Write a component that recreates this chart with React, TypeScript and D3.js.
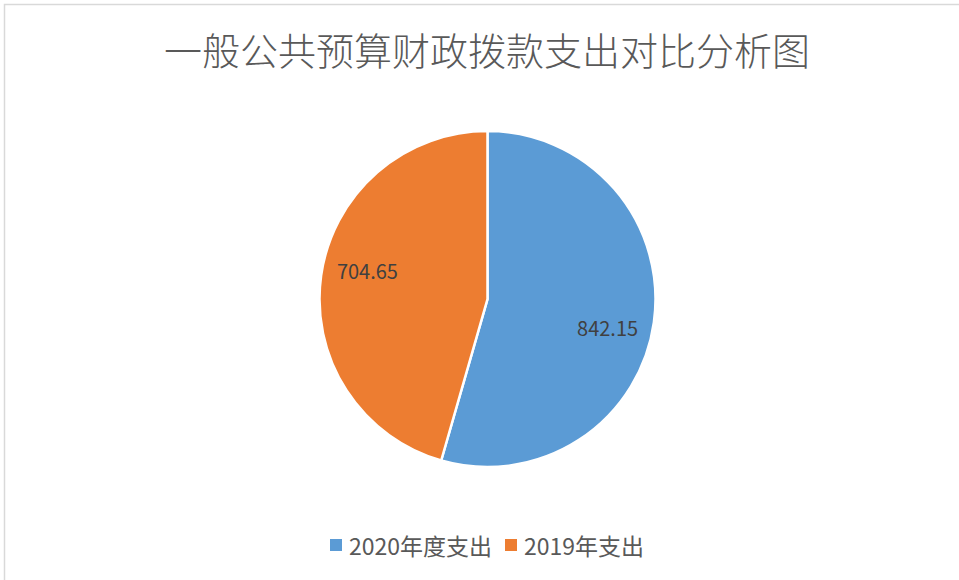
import React from "react";
import * as d3 from "d3";

const categories = ["2020年度支出", "2019年支出"];
const values = [842.15, 704.65];
const labels = ["842.15", "704.65"];
const colors = ["#5B9BD5", "#ED7D31"];
const title = "一般公共预算财政拨款支出对比分析图";

export default function App() {
  const W = 959, H = 580;
  const cx = 487.5, cy = 299, r = 168;
  const data = categories.map((c, i) => ({ c, v: values[i], label: labels[i], color: colors[i] }));
  const pie = d3.pie<any>().value((d: any) => d.v).sort(null).startAngle(0).endAngle(2 * Math.PI);
  const arcs = pie(data);
  const arc = d3.arc<any>().innerRadius(0).outerRadius(r);
  const font = "'Noto Sans CJK SC', 'Noto Sans', sans-serif";
  const labelR = r * 0.735;
  const labelShift = (5.5 * Math.PI) / 180;

  const legendY = 545;
  const fs = 23;
  const items = [
    { x: 330, text: categories[0], color: colors[0] },
    { x: 505, text: categories[1], color: colors[1] },
  ];

  return (
    <svg width={W} height={H} style={{ position: "absolute", left: 0, top: 0, background: "#fff" }}>
      <rect x={0} y={0} width={W} height={H} fill="#fff" />
      <rect x={4.5} y={4.5} width={W + 10} height={H + 10} fill="none" stroke="#d9d9d9" strokeWidth={1.5} />
      <text x={487} y={48} textAnchor="middle" dominantBaseline="central" fontFamily={font} fontWeight={300} fontSize={38} fill="#595959">
        {title}
      </text>
      <g transform={`translate(${cx},${cy})`}>
        {arcs.map((a, i) => (
          <path key={i} d={arc(a) as string} fill={a.data.color} stroke="#fff" strokeWidth={2.5} />
        ))}
        {arcs.map((a, i) => {
          const mid = (a.startAngle + a.endAngle) / 2 + labelShift;
          const x = labelR * Math.sin(mid);
          const y = -labelR * Math.cos(mid);
          return (
            <text key={"l" + i} x={x} y={y} textAnchor="middle" dominantBaseline="central" fontFamily={font} fontSize={20} fill="#404040">
              {a.data.label}
            </text>
          );
        })}
      </g>
      {items.map((it, i) => (
        <g key={"lg" + i}>
          <rect x={it.x} y={legendY - 6} width={12} height={12} fill={it.color} />
          <text x={it.x + 19} y={legendY} dominantBaseline="central" fontFamily={font} fontSize={fs} fill="#595959">
            {it.text}
          </text>
        </g>
      ))}
    </svg>
  );
}
